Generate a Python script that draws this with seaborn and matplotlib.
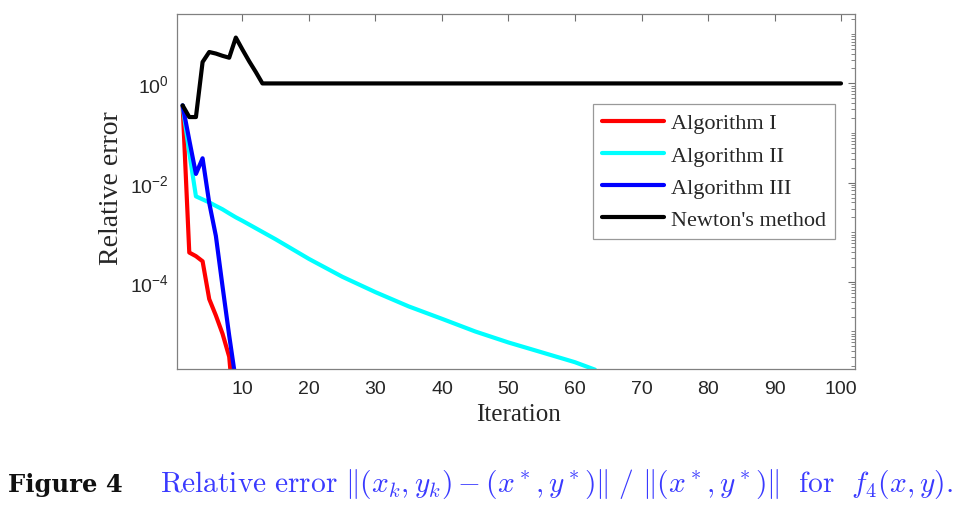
import matplotlib
matplotlib.use('Agg')
import matplotlib.pyplot as plt
import matplotlib.ticker as mticker
from matplotlib.lines import Line2D
import seaborn as sns
import pandas as pd

# data (relative error per iteration)
iter_alg1 = [1, 2, 3, 4, 5, 6, 7, 8, 9]
err_alg1 = [0.36, 3.9e-4, 3.3e-4, 2.6e-4, 4.5e-5, 2.1e-5, 9e-6, 3.1e-6, 1e-7]

iter_alg2 = [1, 2, 3, 4, 5, 6, 7, 8, 9, 10, 15, 20, 25, 30, 35, 40, 45, 50, 55, 60, 63]
err_alg2 = [0.36, 0.04, 5.3e-3, 4.6e-3, 4.0e-3, 3.4e-3, 2.9e-3, 2.4e-3, 2.0e-3, 1.7e-3,
            7.2e-4, 2.9e-4, 1.27e-4, 6.2e-5, 3.2e-5, 1.8e-5, 1.0e-5, 6e-6, 3.8e-6, 2.4e-6, 1.7e-6]

iter_alg3 = [1, 2, 3, 4, 5, 6, 7, 8, 9]
err_alg3 = [0.36, 0.072, 0.015, 0.031, 3.9e-3, 8.4e-4, 8.1e-5, 8.3e-6, 1e-6]

iter_newton = [1, 2, 3, 4, 5, 6, 7, 8, 9, 10, 11, 12, 13, 100]
err_newton = [0.36, 0.21, 0.21, 2.7, 4.3, 4.0, 3.6, 3.3, 8.4, 4.8, 2.8, 1.7, 1.0, 1.0]

methods = ['Algorithm I', 'Algorithm II', 'Algorithm III', "Newton's method"]
colors = ['#ff0000', '#00ffff', '#0000ff', '#000000']

frames = []
for name, xs, ys in zip(methods,
                        [iter_alg1, iter_alg2, iter_alg3, iter_newton],
                        [err_alg1, err_alg2, err_alg3, err_newton]):
    frames.append(pd.DataFrame({'Iteration': xs, 'Relative error': ys, 'method': name}))
df = pd.concat(frames, ignore_index=True)

sns.set_style('white')
plt.rcParams['font.family'] = ['Liberation Sans', 'DejaVu Sans']
plt.rcParams['mathtext.fontset'] = 'cm'

fig = plt.figure(figsize=(9.6, 5.06), dpi=100)
ax = fig.add_axes([0.1847, 0.2688, 0.7059, 0.7016])

sns.lineplot(data=df, x='Iteration', y='Relative error', hue='method',
             palette=dict(zip(methods, colors)), linewidth=3, estimator=None,
             sort=False, legend=False, ax=ax)

ax.set_yscale('log')
ax.set_xlim(0.2, 102.1)
ax.set_ylim(10 ** -5.756, 10 ** 1.40)

ax.xaxis.set_major_locator(mticker.FixedLocator([10, 20, 30, 40, 50, 60, 70, 80, 90, 100]))
ax.yaxis.set_major_locator(mticker.FixedLocator([1e-4, 1e-2, 1e0]))
ax.yaxis.set_major_formatter(mticker.LogFormatterSciNotation())
ax.yaxis.set_minor_locator(mticker.LogLocator(base=10, subs=range(1, 10), numticks=30))
ax.yaxis.set_minor_formatter(mticker.NullFormatter())

ax.tick_params(which='both', direction='in', top=True, right=True,
               color='#707070', labelcolor='#262626', labelsize=14)
ax.tick_params(which='major', length=5, width=0.8)
ax.tick_params(which='minor', length=3, width=0.6)
ax.tick_params(axis='x', pad=8)
ax.tick_params(axis='y', pad=6)

for sp in ax.spines.values():
    sp.set_color('#808080')
    sp.set_linewidth(0.9)

serif = ['Liberation Serif', 'DejaVu Serif']
ax.set_xlabel('Iteration', fontsize=18, family=serif, color='#262626')
ax.set_ylabel('Relative error', fontsize=20, family=serif, color='#262626')
ax.xaxis.set_label_coords(0.504, -0.095)
ax.yaxis.set_label_coords(-0.078, 0.513)

handles = [Line2D([], [], color=c, lw=3) for c in colors]
leg = ax.legend(handles, methods, loc='upper right', bbox_to_anchor=(0.9705, 0.7465),
                borderaxespad=0, fancybox=False, frameon=True, handlelength=2.8,
                handletextpad=0.3, labelspacing=0.52, borderpad=0.4,
                prop={'family': serif, 'size': 16})
leg.get_frame().set_edgecolor('#808080')
leg.get_frame().set_linewidth(0.9)

# caption below the chart
fig.text(8 / 960, 1 - 492 / 506, 'Figure 4', fontsize=17.5, weight='bold',
         family=['DejaVu Serif'], color='#111111', ha='left', va='baseline')
fig.text(160 / 960, 1 - 492 / 506,
         r'$\mathrm{Relative\ error}\ \Vert(x_k, y_k) - (x^*, y^*)\Vert\ /\ '
         r'\Vert(x^*, y^*)\Vert\ \ \mathrm{for}\ \ f_4(x, y).$',
         fontsize=21.2, color='#3a3aff', ha='left', va='baseline')

fig.savefig('out.png', dpi=100)
